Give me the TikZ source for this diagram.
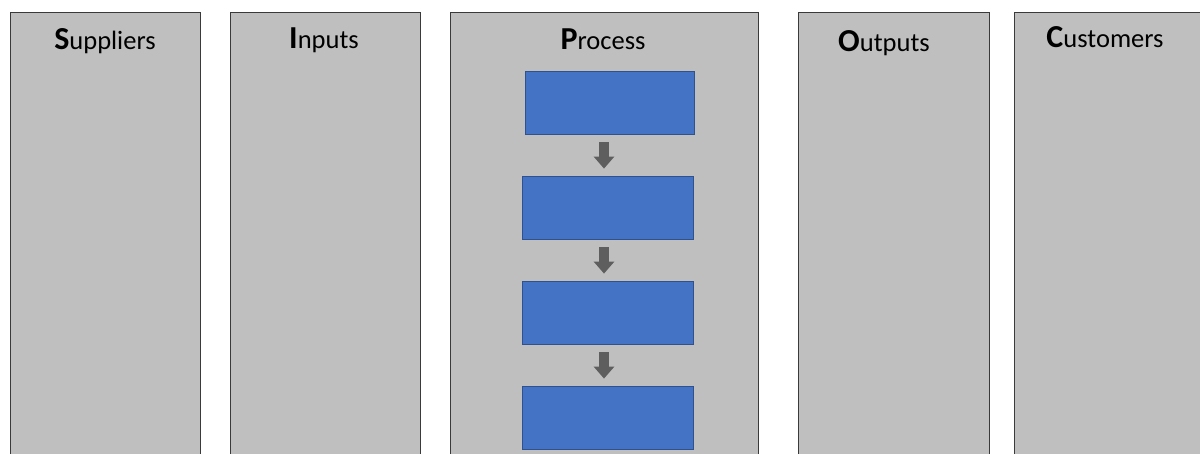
\documentclass[tikz,border=0pt]{standalone}
\usepackage{fontspec}
\setmainfont{Carlito}
\usetikzlibrary{arrows.meta}

\definecolor{colgray}{HTML}{BFBFBF}
\definecolor{coledge}{HTML}{3A3A3A}
\definecolor{stepblue}{HTML}{4472C4}
\definecolor{stepedge}{HTML}{2F528F}
\definecolor{flowgray}{HTML}{5E5E5E}

\newcommand{\headword}[2]{{\fontsize{32}{36}\selectfont\bfseries #1}{\fontsize{26.5}{30}\selectfont #2}}

\tikzset{
  column/.style={draw=coledge, line width=1pt, fill=colgray, rectangle,
    anchor=north west, inner sep=0pt, minimum height=470pt},
  heading/.style={anchor=base, inner sep=0pt, text=black},
  stepbox/.style={draw=stepedge, line width=0.8pt, fill=stepblue, rectangle,
    inner sep=0pt, minimum height=63pt},
  flow/.style={draw=flowgray, line width=10pt,
    -{Triangle[width=20pt,length=12pt]}, color=flowgray}
}

\begin{document}
\begin{tikzpicture}[x=1pt,y=-1pt]
  \useasboundingbox (0,0) rectangle (1200,453);
  \clip (0,0) rectangle (1200,453);

  % SIPOC columns
  \node[column, minimum width=190pt] (sup) at (10,12) {};
  \node[column, minimum width=190pt] (inp) at (230,12) {};
  \node[column, minimum width=308pt] (pro) at (450,12) {};
  \node[column, minimum width=191pt] (out) at (798,12) {};
  \node[column, minimum width=200pt] (cus) at (1014,12) {};

  % column headings
  \node[heading] (hsup) at (105,49) {\headword{S}{uppliers}};
  \node[heading] (hinp) at (324,48) {\headword{I}{nputs}};
  \node[heading] (hpro) at (603,49) {\headword{P}{rocess}};
  \node[heading] (hout) at (884,51.5) {\headword{O}{utputs}};
  \node[heading] (hcus) at (1105,47) {\headword{C}{ustomers}};

  % process steps
  \node[stepbox, minimum width=169pt] (s1) at (609.5,102.5) {};
  \node[stepbox, minimum width=171pt] (s2) at (607.5,207.5) {};
  \node[stepbox, minimum width=171pt] (s3) at (607.5,312.5) {};
  \node[stepbox, minimum width=171pt] (s4) at (607.5,417.5) {};

  % flow arrows between steps (canvas y points up, so down is a negative shift)
  \draw[flow] ([xshift=-5.5pt,yshift=-8pt]s1.south) -- ([xshift=-5.5pt,yshift=7pt]s1.south |- s2.north);
  \draw[flow] ([xshift=-3.5pt,yshift=-8pt]s2.south) -- ([xshift=-3.5pt,yshift=7pt]s3.north);
  \draw[flow] ([xshift=-3.5pt,yshift=-8pt]s3.south) -- ([xshift=-3.5pt,yshift=7pt]s4.north);
\end{tikzpicture}
\end{document}
